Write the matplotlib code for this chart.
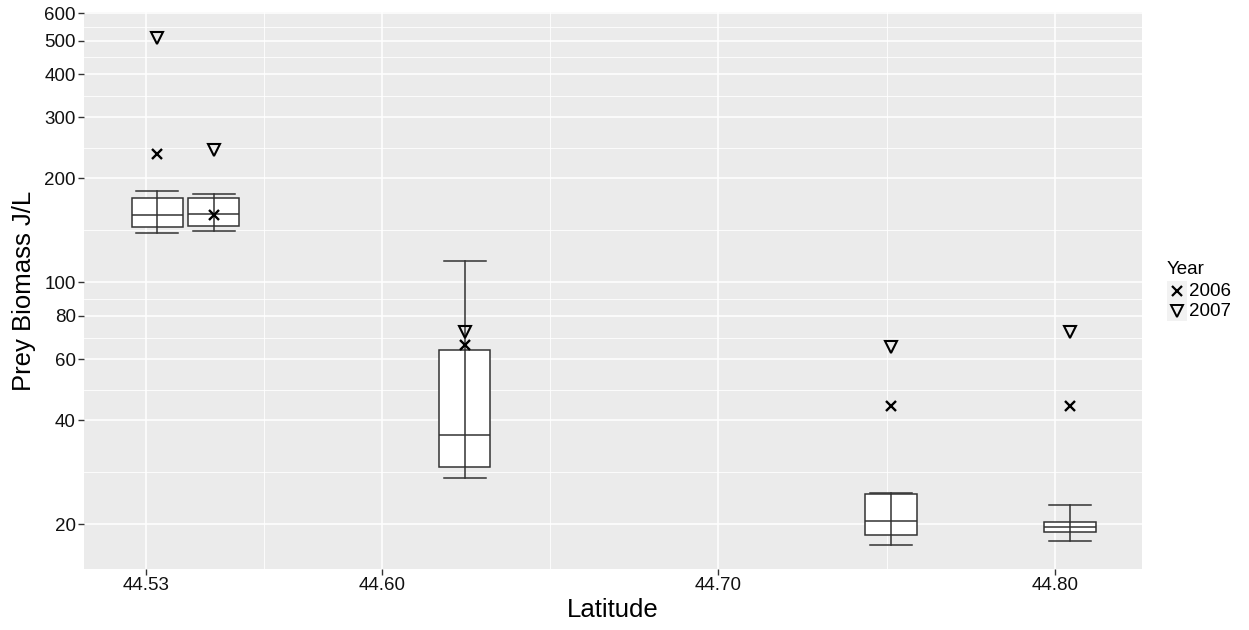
import matplotlib
matplotlib.use("Agg")
import matplotlib.pyplot as plt
from matplotlib.lines import Line2D
from matplotlib.patches import Rectangle
from matplotlib.ticker import FixedLocator, NullFormatter
import numpy as np

plt.rcParams['font.family'] = ['Liberation Sans', 'DejaVu Sans']

# Box summaries per sampling latitude (J/L)
latitude = [44.5333, 44.5501, 44.6246, 44.7513, 44.8045]
whisker_low = [138.7, 140.8, 27.3, 17.4, 17.9]
lower_quartile = [144.4, 145.3, 29.3, 18.6, 19.0]
median = [156.4, 158.0, 36.2, 20.4, 19.6]
upper_quartile = [175.1, 175.1, 63.8, 24.4, 20.3]
whisker_high = [184.2, 180.5, 115.6, 24.7, 22.7]

# Yearly values per latitude
years = ["2006", "2007"]
biomass_2006 = [235.1, 156.6, 66.0, 43.8, 44.0]
biomass_2007 = [509.8, 241.0, 71.8, 65.2, 72.1]

y_ticks = [20, 40, 60, 80, 100, 200, 300, 400, 500, 600]
x_ticks = [44.53, 44.60, 44.70, 44.80]
x_tick_labels = ["44.53", "44.60", "44.70", "44.80"]

W, H = 1249, 630
fig = plt.figure(figsize=(W / 100, H / 100), dpi=100)
ax = fig.add_axes([84 / W, 1 - 569 / H, (1142 - 84) / W, (569 - 12) / H])

ax.set_yscale('log')
ax.set_ylim(14.85, 605)
ax.set_xlim(44.5115, 44.8259)
ax.set_facecolor('#EBEBEB')
for s in ax.spines.values():
    s.set_visible(False)

# major and minor breaks, minor ones halfway between majors
ax.yaxis.set_major_locator(FixedLocator(y_ticks))
ax.set_yticklabels([str(v) for v in y_ticks])
y_minor = [np.sqrt(a * b) for a, b in zip(y_ticks[:-1], y_ticks[1:])]
ax.yaxis.set_minor_locator(FixedLocator(y_minor))
ax.yaxis.set_minor_formatter(NullFormatter())

ax.set_xticks(x_ticks)
ax.set_xticklabels(x_tick_labels)
x_minor = [(a + b) / 2 for a, b in zip(x_ticks[:-1], x_ticks[1:])]
ax.xaxis.set_minor_locator(FixedLocator(x_minor))
ax.xaxis.set_minor_formatter(NullFormatter())

ax.tick_params(which='major', length=4, width=1.0, color='#333333',
               labelsize=13.5, labelcolor='#111111', pad=2)
ax.tick_params(which='minor', length=0)
ax.grid(which='major', color='white', lw=1.1)
ax.grid(which='minor', color='white', lw=0.6)
ax.set_axisbelow(True)

edge = '#333333'
stats = [dict(med=m, q1=a, q3=b, whislo=lo, whishi=hi, fliers=[])
         for m, a, b, lo, hi in zip(median, lower_quartile, upper_quartile,
                                     whisker_low, whisker_high)]
ax.bxp(stats, positions=latitude, widths=0.0152, capwidths=0.0125,
       patch_artist=True, showfliers=False, manage_ticks=False,
       boxprops=dict(facecolor='white', edgecolor=edge, lw=1.1),
       medianprops=dict(color=edge, lw=1.1),
       whiskerprops=dict(color=edge, lw=1.1),
       capprops=dict(color=edge, lw=1.1))
# error-bar stem runs through the box
ax.vlines(latitude, lower_quartile, upper_quartile, color=edge, lw=1.1, zorder=3)

ax.plot(latitude, biomass_2006, ls='none', marker='x', color='black',
        ms=7.5, mew=1.7, zorder=4)
ax.plot(latitude, biomass_2007, ls='none', marker='v', mfc='none',
        mec='black', ms=9, mew=1.5, zorder=4)

ax.set_xlabel('Latitude', fontsize=18.5)
ax.xaxis.set_label_coords(0.5, (569 - 598) / 557)
ax.set_ylabel('Prey Biomass J/L', fontsize=18.5)
ax.yaxis.set_label_coords((36 - 84) / 1058, 0.5)

# legend
def fx(px):
    return px / W

def fy(py):
    return 1 - py / H

fig.text(fx(1167), fy(269), 'Year', fontsize=13.5, ha='left', va='center')
key_styles = [dict(marker='x', color='black', ms=6.5, mew=1.6),
              dict(marker='v', mfc='none', mec='black', ms=8, mew=1.4)]
for i, (yr, st) in enumerate(zip(years, key_styles)):
    cy = 290.5 + 20.5 * i
    fig.add_artist(Rectangle((fx(1167), fy(cy + 10)), 20 / W, 20 / H,
                             transform=fig.transFigure, facecolor='#F2F2F2',
                             edgecolor='none'))
    fig.add_artist(Line2D([fx(1177)], [fy(cy)], transform=fig.transFigure,
                          ls='none', **st))
    fig.text(fx(1189.5), fy(cy + 1), yr, fontsize=13.5, ha='left', va='center')

fig.savefig('out.png', dpi=100)
